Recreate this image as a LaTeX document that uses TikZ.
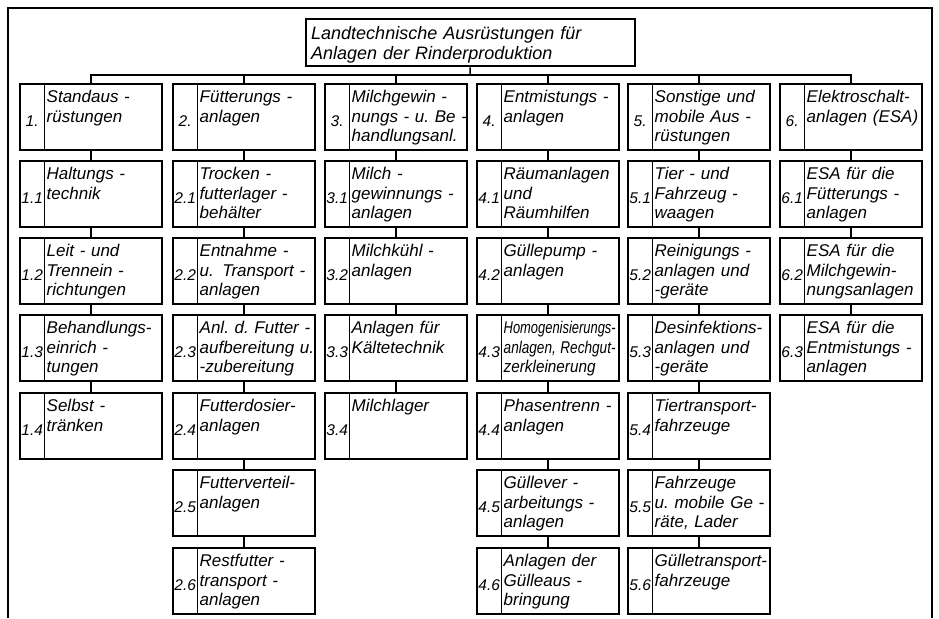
\documentclass[tikz,border=0pt]{standalone}
\usepackage{fontspec}
\setmainfont{Liberation Sans}

\begin{document}
\begin{tikzpicture}[x=1pt, y=-1pt,
    titel/.style={draw, line width=2.4pt, anchor=north west, text width=319pt,
      inner xsep=5pt, inner ysep=4.25pt, text height=16.5pt, text depth=22pt,
      align=left, font=\fontsize{18}{20}\selectfont\itshape},
    kasten/.style={draw, line width=2.4pt, anchor=north west, text width=139pt,
      inner xsep=1.5pt, inner ysep=6pt, text height=12.5pt, text depth=41.5pt,
      align=left, font=\fontsize{17}{19.5}\selectfont\itshape,
      execute at begin node={\leftskip=25pt\hyphenpenalty=10000\exhyphenpenalty=10000},
      path picture={\draw[line width=1.4pt]
        ([xshift=24pt]path picture bounding box.north west) --
        ([xshift=24pt]path picture bounding box.south west);}},
    nr/.style={anchor=west, inner sep=0pt, minimum width=26pt, yshift=-4pt,
      font=\fontsize{15.5}{15.5}\selectfont\itshape},
    verb/.style={line width=1.5pt}]
%
    \useasboundingbox (0,0) rectangle (939,618);
    \draw[line width=2pt] (8,618) -- (8,8) -- (932,8) -- (932,618);
%
    \node[titel] (titel) at (305,18) {Landtechnische Ausrüstungen für\\Anlagen der Rinderproduktion};
%
    % Standausruestungen
    \node[kasten, label={[nr]west:1.}] (k10) at (19,83) {Standaus -\\rüstungen};
    \node[kasten, label={[nr]west:1.1}] (k11) at (19,160) {Haltungs -\\technik};
    \node[kasten, label={[nr]west:1.2}] (k12) at (19,237) {Leit - und\\Trennein -\\richtungen};
    \node[kasten, label={[nr]west:1.3}] (k13) at (19,314) {Behandlungs-\\einrich -\\tungen};
    \node[kasten, label={[nr]west:1.4}] (k14) at (19,392) {Selbst -\\tränken};
%
    % Fuetterung
    \node[kasten, label={[nr]west:2.}] (k20) at (172,83) {Fütterungs -\\anlagen};
    \node[kasten, label={[nr]west:2.1}] (k21) at (172,160) {Trocken -\\futterlager -\\behälter};
    \node[kasten, label={[nr]west:2.2}] (k22) at (172,237) {Entnahme -\\u. Transport -\\anlagen};
    \node[kasten, label={[nr]west:2.3}] (k23) at (172,314) {Anl.~d.~Futter~-\\aufbereitung~u.\\-zubereitung};
    \node[kasten, label={[nr]west:2.4}] (k24) at (172,392) {Futterdosier-\\anlagen};
    \node[kasten, label={[nr]west:2.5}] (k25) at (172,469) {Futterverteil-\\anlagen};
    \node[kasten, label={[nr]west:2.6}] (k26) at (172,547) {Restfutter -\\transport -\\anlagen};
%
    % Milch
    \node[kasten, label={[nr]west:3.}] (k30) at (324,83) {Milchgewin -\\nungs~-~u.~Be~-\\handlungsanl.};
    \node[kasten, label={[nr]west:3.1}] (k31) at (324,160) {Milch -\\gewinnungs -\\anlagen};
    \node[kasten, label={[nr]west:3.2}] (k32) at (324,237) {Milchkühl -\\anlagen};
    \node[kasten, label={[nr]west:3.3}] (k33) at (324,314) {Anlagen für\\Kältetechnik};
    \node[kasten, label={[nr]west:3.4}] (k34) at (324,392) {Milchlager};
%
    % Entmistung
    \node[kasten, label={[nr]west:4.}] (k40) at (476,83) {Entmistungs -\\anlagen};
    \node[kasten, label={[nr]west:4.1}] (k41) at (476,160) {Räumanlagen\\und\\Räumhilfen};
    \node[kasten, label={[nr]west:4.2}] (k42) at (476,237) {Güllepump -\\anlagen};
    \node[kasten, label={[nr]west:4.3}] (k43) at (476,314) {\scalebox{0.76}[1]{Homogenisierungs-}\\\scalebox{0.8}[1]{anlagen, Rechgut-}\\\scalebox{0.9}[1]{zerkleinerung}};
    \node[kasten, label={[nr]west:4.4}] (k44) at (476,392) {Phasentrenn -\\anlagen};
    \node[kasten, label={[nr]west:4.5}] (k45) at (476,469) {Güllever -\\arbeitungs -\\anlagen};
    \node[kasten, label={[nr]west:4.6}] (k46) at (476,547) {Anlagen der\\Gülleaus -\\bringung};
%
    % Sonstige
    \node[kasten, label={[nr]west:5.}] (k50) at (627,83) {Sonstige und\\mobile Aus -\\rüstungen};
    \node[kasten, label={[nr]west:5.1}] (k51) at (627,160) {Tier - und\\Fahrzeug -\\waagen};
    \node[kasten, label={[nr]west:5.2}] (k52) at (627,237) {Reinigungs -\\anlagen und\\-geräte};
    \node[kasten, label={[nr]west:5.3}] (k53) at (627,314) {Desinfektions-\\anlagen und\\-geräte};
    \node[kasten, label={[nr]west:5.4}] (k54) at (627,392) {Tiertransport-\\fahrzeuge};
    \node[kasten, label={[nr]west:5.5}] (k55) at (627,469) {Fahrzeuge\\u.~mobile~Ge~-\\räte, Lader};
    \node[kasten, label={[nr]west:5.6}] (k56) at (627,547) {Gülletransport-\\fahrzeuge};
%
    % ESA
    \node[kasten, label={[nr]west:6.}] (k60) at (779,83) {Elektroschalt-\\anlagen~(ESA)};
    \node[kasten, label={[nr]west:6.1}] (k61) at (779,160) {ESA für die\\Fütterungs -\\anlagen};
    \node[kasten, label={[nr]west:6.2}] (k62) at (779,237) {ESA für die\\Milchgewin-\\nungsanlagen};
    \node[kasten, label={[nr]west:6.3}] (k63) at (779,314) {ESA für die\\Entmistungs -\\anlagen};
%
    \coordinate (bus) at (470,75);
    \draw[verb] (titel) -- (bus);
    \draw[verb] (k10.north) |- (bus) -| (k60.north);
    \foreach \s in {2,...,5}
      \draw[verb] (k\s0.north) -- (k\s0.north |- bus);
%
    \foreach \s/\n in {1/4,2/6,3/4,4/6,5/6,6/3}
      \foreach \i [count=\j from 0] in {1,...,\n}
        \draw[verb] (k\s\j) -- (k\s\i);
\end{tikzpicture}
\end{document}
